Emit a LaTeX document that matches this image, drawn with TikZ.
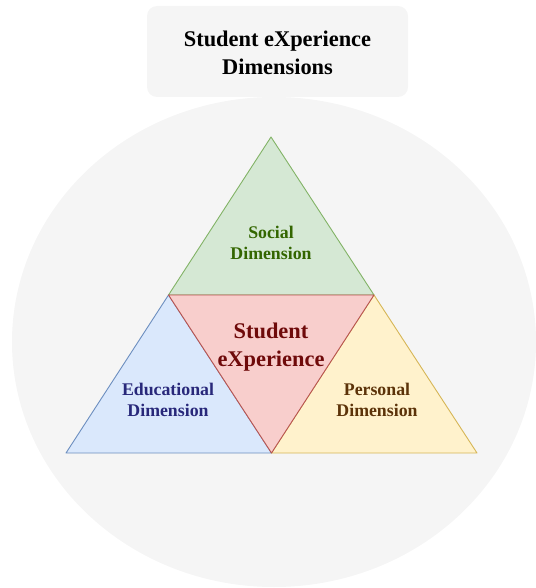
\documentclass[tikz,border=0pt]{standalone}
\usepackage{fontspec}
\setmainfont{Liberation Serif}
\usetikzlibrary{calc}

\definecolor{panel}{HTML}{F5F5F5}
\definecolor{socfill}{HTML}{D5E8D4}  \definecolor{socline}{HTML}{82B366} \definecolor{soctext}{HTML}{336600}
\definecolor{stufill}{HTML}{F8CECC}  \definecolor{stuline}{HTML}{B85450} \definecolor{stutext}{HTML}{6F0A0A}
\definecolor{edufill}{HTML}{DAE8FC}  \definecolor{eduline}{HTML}{6C8EBF} \definecolor{edutext}{HTML}{28287A}
\definecolor{perfill}{HTML}{FFF2CC}  \definecolor{perline}{HTML}{D6B656} \definecolor{pertext}{HTML}{5C3309}

\tikzset{
  dimlabel/.style={font=\fontsize{17.8}{21}\selectfont\bfseries, align=center, inner sep=0pt},
  biglabel/.style={font=\fontsize{22.4}{28}\selectfont\bfseries, align=center, inner sep=0pt},
  piece/.style={line width=0.9pt, line join=round}
}

\begin{document}
\begin{tikzpicture}[x=1pt, y=-1pt]
  \useasboundingbox (0,0) rectangle (535,588);

  % backdrop
  \fill[panel] (274,342) ellipse [x radius=262, y radius=245];
  \fill[panel, rounded corners=10pt] (147,6) rectangle (408,97);
  \node[biglabel] (title) at (277.5,53) {Student eXperience\\Dimensions};

  % outer corners and edge midpoints
  \coordinate (top) at (271,137);
  \coordinate (bl) at (66,453);
  \coordinate (br) at (477,453);
  \coordinate (ml) at ($(top)!0.5!(bl)$);
  \coordinate (mr) at ($(top)!0.5!(br)$);
  \coordinate (mb) at ($(bl)!0.5!(br)$);

  % the four parts
  \filldraw[piece, fill=socfill, draw=socline] (top) -- (ml) -- (mr) -- cycle;
  \filldraw[piece, fill=edufill, draw=eduline] (ml) -- (bl) -- (mb) -- cycle;
  \filldraw[piece, fill=perfill, draw=perline] (mr) -- (mb) -- (br) -- cycle;
  \filldraw[piece, fill=stufill, draw=stuline] (ml) -- (mr) -- (mb) -- cycle;

  \node[dimlabel, text=soctext] (social) at (271,243) {Social\\Dimension};
  \node[biglabel, text=stutext] (student) at (271,347) {Student\\eXperience};
  \node[dimlabel, text=edutext] (edu) at (168,400) {Educational\\Dimension};
  \node[dimlabel, text=pertext] (personal) at (377,400) {Personal\\Dimension};
\end{tikzpicture}
\end{document}
